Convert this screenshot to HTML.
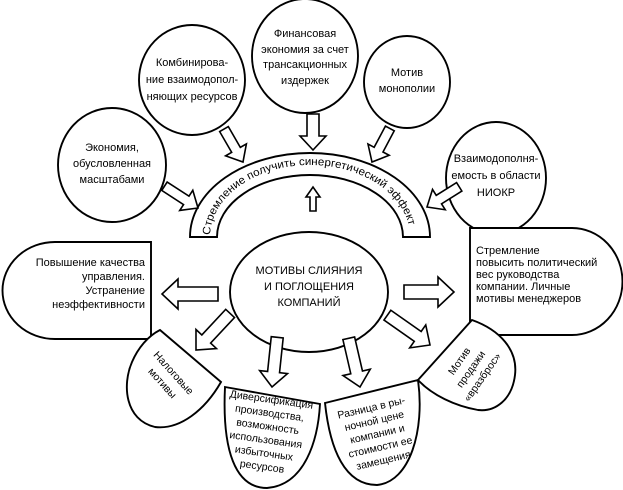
<!DOCTYPE html>
<html><head><meta charset="utf-8"><style>
html,body{margin:0;padding:0;background:#fff}
svg{display:block}
text{font-family:"Liberation Sans",sans-serif;font-size:11px;fill:#000}
.s text{font-size:10.5px}
</style></head><body>
<svg width="623" height="490" viewBox="0 0 623 490" xmlns="http://www.w3.org/2000/svg">
<g fill="#fff" stroke="#000" stroke-width="1.9">
<ellipse cx="112" cy="165" rx="54" ry="57"/>
<ellipse cx="192" cy="80" rx="53" ry="55"/>
<ellipse cx="305" cy="56" rx="53" ry="57"/>
<ellipse cx="407" cy="82" rx="43" ry="46"/>
<ellipse cx="496" cy="178" rx="50" ry="56"/>
<path d="M190,237 A120,84 0 0 1 430,237 L403,237 A93,62 0 0 0 217,237 Z"/>
<ellipse cx="309" cy="292" rx="79" ry="60"/>
<path d="M151,242 L55,242 A52,48 0 0 0 55,339 L151,339 Z"/>
<path d="M470,228 L572,228 A50,53 0 0 1 572,335 L470,335 Z"/>
<path d="M160,330 L221,382 C205,410 180,430 155,427 C125,420 122,385 132,362 C138,348 148,336 160,330 Z"/>
<path d="M225,387 L320,404 C318,440 305,485 267,488 C235,488 222,450 225,387 Z"/>
<path d="M325,403 L418,380 C425,430 410,482 377,485 C345,485 330,450 325,403 Z"/>
<path d="M418,380 L472,320 C500,330 518,350 515,375 C512,400 495,412 478,410 C455,406 432,395 418,380 Z"/>
</g>
<g fill="#fff" stroke="#000" stroke-width="1.6" stroke-linejoin="miter">
<g transform="translate(198,208) rotate(33)"><polygon points="-40,-5 -14,-5 -14,-12 0,0 -14,12 -14,5 -40,5"/></g>
<g transform="translate(243,162) rotate(60)"><polygon points="-38,-5 -14,-5 -14,-12 0,0 -14,12 -14,5 -38,5"/></g>
<g transform="translate(313,150) rotate(90)"><polygon points="-36,-6 -14,-6 -14,-13 0,0 -14,13 -14,6 -36,6"/></g>
<g transform="translate(372,162) rotate(118)"><polygon points="-38,-5 -14,-5 -14,-12 0,0 -14,12 -14,5 -38,5"/></g>
<g transform="translate(427,207) rotate(148)"><polygon points="-38,-5 -14,-5 -14,-12 0,0 -14,12 -14,5 -38,5"/></g>
<g transform="translate(313,187) rotate(-90)"><polygon points="-24,-3 -10,-3 -10,-7 0,0 -10,7 -10,3 -24,3"/></g>
<g transform="translate(162,294) rotate(180)"><polygon points="-56,-7 -16,-7 -16,-15 0,0 -16,15 -16,7 -56,7"/></g>
<g transform="translate(454,292)"><polygon points="-50,-7 -16,-7 -16,-15 0,0 -16,15 -16,7 -50,7"/></g>
<g transform="translate(196,350) rotate(133)"><polygon points="-50,-6 -15,-6 -15,-14 0,0 -15,14 -15,6 -50,6"/></g>
<g transform="translate(272,387) rotate(96)"><polygon points="-50,-6 -15,-6 -15,-14 0,0 -15,14 -15,6 -50,6"/></g>
<g transform="translate(360,387) rotate(77)"><polygon points="-50,-6 -15,-6 -15,-14 0,0 -15,14 -15,6 -50,6"/></g>
<g transform="translate(430,345) rotate(35)"><polygon points="-52,-6 -15,-6 -15,-14 0,0 -15,14 -15,6 -52,6"/></g>
</g>
<g text-anchor="middle">
<text x="112" y="151">Экономия,</text>
<text x="112" y="167">обусловленная</text>
<text x="112" y="183">масштабами</text>
<text x="192" y="66">Комбинирова-</text>
<text x="192" y="83">ние взаимодопол-</text>
<text x="192" y="100">няющих ресурсов</text>
<text x="305" y="37">Финансовая</text>
<text x="305" y="53">экономия за счет</text>
<text x="305" y="68">трансакционных</text>
<text x="305" y="84">издержек</text>
<text x="407" y="76">Мотив</text>
<text x="407" y="92">монополии</text>
<text x="496" y="162">Взаимодополня-</text>
<text x="496" y="179">емость в области</text>
<text x="496" y="196">НИОКР</text>
<text x="309" y="274" font-size="12">МОТИВЫ СЛИЯНИЯ</text>
<text x="309" y="290" font-size="12">И ПОГЛОЩЕНИЯ</text>
<text x="309" y="306" font-size="12">КОМПАНИЙ</text>
</g>
<path id="arc" d="M210,237 A100,72 0 0 1 410,237" fill="none"/>
<text font-size="11.5"><textPath href="#arc" startOffset="2" textLength="258" lengthAdjust="spacingAndGlyphs">Стремление получить синергетический эффект</textPath></text>
<g text-anchor="end">
<text x="145" y="266">Повышение качества</text>
<text x="145" y="280">управления.</text>
<text x="145" y="294">Устранение</text>
<text x="145" y="308">неэффективности</text>
</g>
<g>
<text x="476" y="254">Стремление</text>
<text x="476" y="266">повысить политический</text>
<text x="476" y="278">вес руководства</text>
<text x="476" y="290">компании. Личные</text>
<text x="476" y="302">мотивы менеджеров</text>
</g>
<g text-anchor="middle" class="s">
<g transform="translate(168,378) rotate(48)"><text x="0" y="-4">Налоговые</text><text x="0" y="11">мотивы</text></g>
<g transform="translate(271,403) rotate(8)">
<text x="0" y="0">Диверсификация</text><text x="0" y="13.5">производства,</text><text x="0" y="27">возможность</text><text x="0" y="40.5">использования</text><text x="0" y="54">избыточных</text><text x="0" y="67.5">ресурсов</text></g>
<g transform="translate(372,411) rotate(-13)">
<text x="0" y="0">Разница в ры-</text><text x="0" y="13.5">ночной цене</text><text x="0" y="27">компании и</text><text x="0" y="40.5">стоимости ее</text><text x="0" y="54">замещения</text></g>
<g transform="translate(472,370) rotate(-55)">
<text x="0" y="-12">Мотив</text><text x="0" y="2">продажи</text><text x="0" y="16">«вразброс»</text></g>
</g>
</svg>
</body></html>
